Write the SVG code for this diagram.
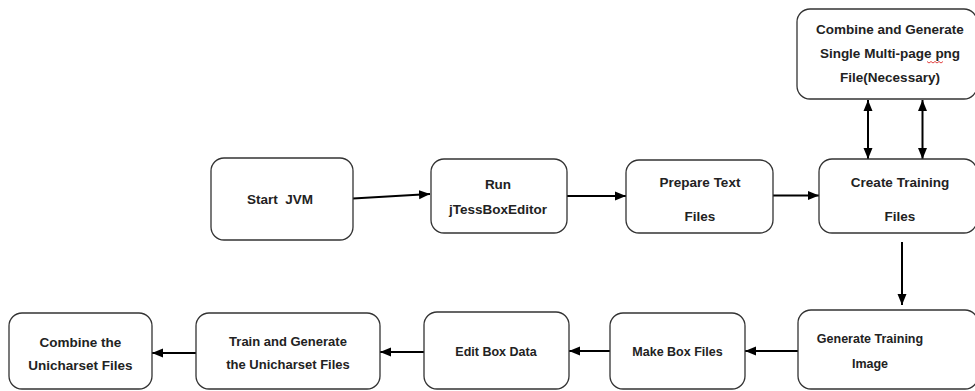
<svg xmlns="http://www.w3.org/2000/svg" width="975" height="391" viewBox="0 0 975 391">
<defs>
<style>
.box{fill:#fff;stroke:#333;stroke-width:1.3}
.t{font-family:"Liberation Sans",Arial,sans-serif;font-weight:bold;fill:#222;text-anchor:middle}
.c{stroke:#000;stroke-width:2;fill:none}
</style>
<marker id="ah" markerUnits="userSpaceOnUse" markerWidth="12" markerHeight="10" refX="11" refY="5" orient="auto-start-reverse">
<path d="M0,0.5 L11,5 L0,9.5 Z" fill="#000"/>
</marker>
</defs>
<rect width="975" height="391" fill="#fff"/>
<g id="connectors">
<line class="c" x1="353" y1="198.5" x2="430" y2="194" marker-end="url(#ah)"/>
<line class="c" x1="567" y1="196" x2="626" y2="196" marker-end="url(#ah)"/>
<line class="c" x1="773" y1="195.5" x2="819" y2="195.5" marker-end="url(#ah)"/>
<line class="c" x1="868" y1="100" x2="868" y2="159" marker-start="url(#ah)" marker-end="url(#ah)"/>
<line class="c" x1="922.5" y1="100" x2="922.5" y2="159" marker-start="url(#ah)" marker-end="url(#ah)"/>
<line class="c" x1="902" y1="242" x2="902" y2="305" marker-end="url(#ah)"/>
<line class="c" x1="798" y1="351" x2="745" y2="351" marker-end="url(#ah)"/>
<line class="c" x1="610" y1="351" x2="569" y2="351" marker-end="url(#ah)"/>
<line class="c" x1="426" y1="352" x2="380" y2="352" marker-end="url(#ah)"/>
<line class="c" x1="196" y1="353" x2="152" y2="353" marker-end="url(#ah)"/>
</g>
<g id="combine-generate">
<rect class="box" x="797" y="9" width="180" height="90" rx="13"/>
<text class="t" font-size="13.5" x="890" y="34">Combine and Generate</text>
<text class="t" font-size="13.5" x="890" y="58">Single Multi-page png</text>
<path d="M927,61.5 l2,1.5 l2,-1.5 l2,1.5 l2,-1.5 l2,1.5 l2,-1.5 l2,1.5 l2,-1.5" fill="none" stroke="#e03030" stroke-width="0.9"/>
<text class="t" font-size="13.5" x="890" y="82">File(Necessary)</text>
</g>
<g id="start-jvm">
<rect class="box" x="211" y="158" width="142" height="82" rx="13"/>
<text class="t" font-size="13.5" x="280" y="204" xml:space="preserve">Start  JVM</text>
</g>
<g id="run-jtess">
<rect class="box" x="431" y="159" width="136" height="74" rx="13"/>
<text class="t" font-size="13.5" x="498" y="189">Run</text>
<text class="t" font-size="13.5" x="498" y="214">jTessBoxEditor</text>
</g>
<g id="prepare-text">
<rect class="box" x="626" y="160" width="147" height="73" rx="13"/>
<text class="t" font-size="13.5" x="700" y="187">Prepare Text</text>
<text class="t" font-size="13.5" x="700" y="221">Files</text>
</g>
<g id="create-training">
<rect class="box" x="819" y="159" width="158" height="74" rx="13"/>
<text class="t" font-size="13.5" x="900" y="187">Create Training</text>
<text class="t" font-size="13.5" x="900" y="221">Files</text>
</g>
<g id="generate-training">
<rect class="box" x="798" y="310" width="180" height="79" rx="13"/>
<text class="t" font-size="12.5" x="870" y="343">Generate Training</text>
<text class="t" font-size="12.5" x="870" y="368">Image</text>
</g>
<g id="make-box">
<rect class="box" x="610" y="313" width="135" height="76" rx="13"/>
<text class="t" font-size="12.5" x="677.5" y="356">Make Box Files</text>
</g>
<g id="edit-box">
<rect class="box" x="424" y="312" width="145" height="77" rx="13"/>
<text class="t" font-size="12.5" x="496" y="356">Edit Box Data</text>
</g>
<g id="train-generate">
<rect class="box" x="196" y="313" width="184" height="76" rx="13"/>
<text class="t" font-size="13" x="288" y="346">Train and Generate</text>
<text class="t" font-size="13" x="288" y="369">the Unicharset Files</text>
</g>
<g id="combine-unicharset">
<rect class="box" x="9" y="313" width="143" height="76" rx="13"/>
<text class="t" font-size="13.5" x="80.5" y="347">Combine the</text>
<text class="t" font-size="13.5" x="80.5" y="370">Unicharset Files</text>
</g>
</svg>
